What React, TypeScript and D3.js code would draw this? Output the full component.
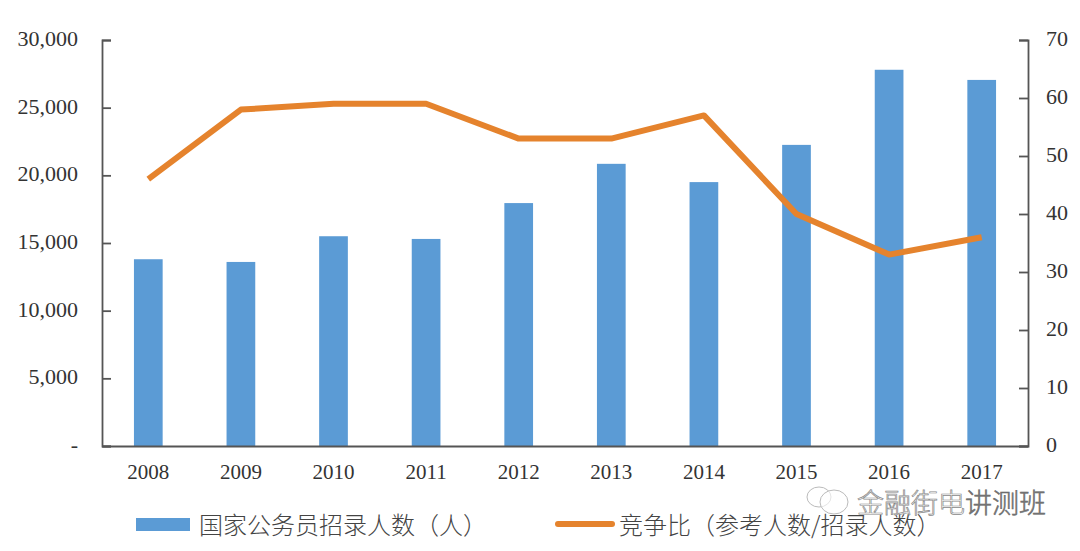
import {useEffect, useRef} from "react";
import * as d3 from "d3"

const years = ["2008", "2009", "2010", "2011", "2012", "2013", "2014", "2015", "2016", "2017"]
const recruits = [13800, 13600, 15500, 15300, 17950, 20850, 19500, 22250, 27800, 27050]
const ratio = [46, 58, 59, 59, 53, 53, 57, 40, 33, 36]
const leftTicks = [0, 5000, 10000, 15000, 20000, 25000, 30000]
const rightTicks = [0, 10, 20, 30, 40, 50, 60, 70]

const width = 1080
const height = 551
const margin = {top: 40, right: 52, bottom: 105, left: 102}
const serif = "'Liberation Serif', serif"
const cjk = "'Noto Sans CJK SC', sans-serif"
const axisColor = "#555"
const textColor = "#333"

const App = () => {
    const svgRef = useRef(null)

    useEffect(() => {
        const svg = d3.select(svgRef.current)
        svg.selectAll("*").remove()

        const innerBottom = height - margin.bottom
        const x = d3.scaleBand().domain(years).range([margin.left, width - margin.right]).paddingInner(0.69).paddingOuter(0.345)
        const yLeft = d3.scaleLinear().domain([0, 30000]).range([innerBottom, margin.top])
        const yRight = d3.scaleLinear().domain([0, 70]).range([innerBottom, margin.top])

        // столбцы
        svg.append("g").selectAll("rect").data(recruits).join("rect")
            .attr("x", (_, i) => x(years[i]))
            .attr("y", d => yLeft(d))
            .attr("width", x.bandwidth())
            .attr("height", d => innerBottom - yLeft(d))
            .attr("fill", "#5b9bd5")

        // оси
        const leftAxis = d3.axisLeft(yLeft).tickValues(leftTicks).tickSize(-9).tickPadding(24)
            .tickFormat(d => d === 0 ? "-" : d3.format(",")(d))
        const rightAxis = d3.axisRight(yRight).tickValues(rightTicks).tickSize(-9).tickPadding(18)
        const bottomAxis = d3.axisBottom(x).tickSize(0).tickPadding(18)

        const styleAxis = (g, size) => {
            g.selectAll("path,line").attr("stroke", axisColor).attr("stroke-width", 1.8)
            g.selectAll("text").attr("fill", textColor).attr("font-family", serif).attr("font-size", size)
        }
        svg.append("g").attr("transform", `translate(${margin.left},0)`).call(leftAxis).call(styleAxis, 22)
            .selectAll("text").attr("dy", "0.25em")
        svg.append("g").attr("transform", `translate(${width - margin.right},0)`).call(rightAxis).call(styleAxis, 22)
            .selectAll("text").attr("dy", "0.25em")
        svg.append("g").attr("transform", `translate(0,${innerBottom})`).call(bottomAxis).call(styleAxis, 21)

        // линия
        const line = d3.line()
            .x((_, i) => x(years[i]) + x.bandwidth() / 2)
            .y(d => yRight(d))
        svg.append("path").datum(ratio)
            .attr("d", line)
            .attr("fill", "none")
            .attr("stroke", "#e5832d")
            .attr("stroke-width", 6)
            .attr("stroke-linejoin", "round")

        // легенда
        svg.append("rect").attr("x", 136).attr("y", 518).attr("width", 54).attr("height", 13).attr("fill", "#5b9bd5")
        svg.append("text").attr("x", 199).attr("y", 534).text("国家公务员招录人数（人）")
            .attr("font-family", cjk).attr("font-size", 24).attr("font-weight", 300).attr("fill", "#444")
        svg.append("line").attr("x1", 558).attr("x2", 612).attr("y1", 524).attr("y2", 524)
            .attr("stroke", "#e5832d").attr("stroke-width", 6).attr("stroke-linecap", "round")
        svg.append("text").attr("x", 619).attr("y", 534).text("竞争比（参考人数/招录人数）")
            .attr("font-family", cjk).attr("font-size", 24).attr("font-weight", 300).attr("fill", "#444")

        // водяной знак
        const mark = svg.append("g").attr("fill", "#fff").attr("fill-opacity", 0.6).attr("stroke", "#bbb").attr("stroke-width", 1)
        mark.append("ellipse").attr("cx", 819).attr("cy", 497).attr("rx", 12).attr("ry", 10)
        mark.append("ellipse").attr("cx", 834).attr("cy", 502).attr("rx", 14).attr("ry", 12)
        const wm = svg.append("text").attr("x", 857).attr("y", 513)
            .attr("font-family", cjk).attr("font-size", 27).attr("font-weight", 300)
        wm.append("tspan").text("金融街电").attr("fill", "#fff").attr("fill-opacity", 0.75).attr("stroke", "#888").attr("stroke-width", 0.7)
        wm.append("tspan").text("讲测班").attr("fill", "#777").attr("stroke", "#666").attr("stroke-width", 0.5)
    }, []);

    return <svg ref={svgRef} width={width} height={height}
                style={{position: "absolute", left: 0, top: 0, background: "#fff"}}/>
}

export default App
